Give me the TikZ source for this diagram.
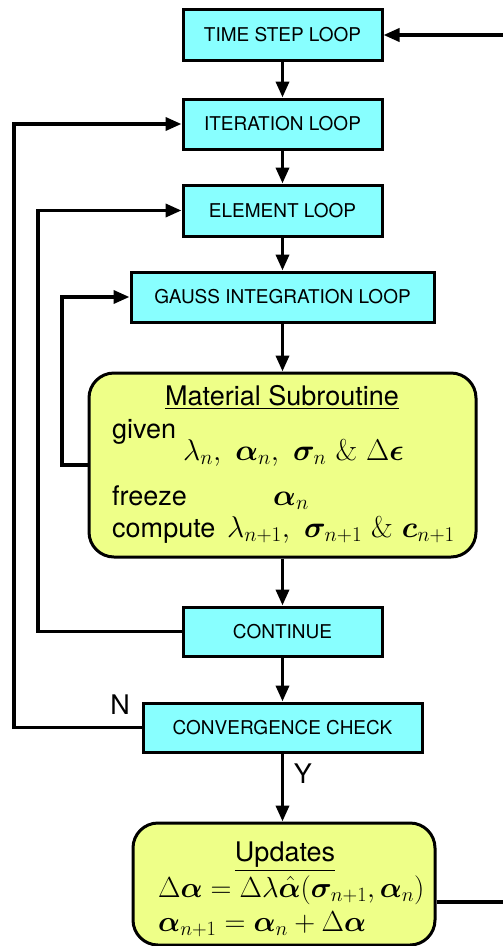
\documentclass[tikz,border=0pt]{standalone}
\usepackage{fix-cm}
\usepackage{amsmath,bm}
\usepackage[no-math]{fontspec}
\newfontfamily\hv{TeX Gyre Heros}
\usetikzlibrary{arrows.meta}
\definecolor{boxcyan}{RGB}{136,255,255}
\definecolor{boxyellow}{RGB}{238,255,136}
\begin{document}
\begin{tikzpicture}[x=1pt,y=-1pt,
 loopbox/.style={draw, line width=3pt, fill=boxcyan, minimum height=51pt, inner sep=0pt, font=\hv\fontsize{19}{22}\selectfont},
 subbox/.style={draw, line width=3pt, fill=boxyellow, rounded corners=25pt, inner sep=0pt},
 conn/.style={line width=3.6pt, -{Triangle[length=16pt,width=13pt]}},
 txt/.style={font=\hv\fontsize{27}{32}\selectfont, inner sep=0pt, anchor=base west},
 mth/.style={font=\fontsize{30}{35}\selectfont, inner sep=0pt, anchor=base west},
 mthu/.style={font=\fontsize{29}{34}\selectfont, inner sep=0pt, anchor=base west}]
\useasboundingbox (0,0) rectangle (503,946);

\node[loopbox, minimum width=199pt] (ts) at (282.5,35) {TIME STEP LOOP};
\node[loopbox, minimum width=199pt, minimum height=50pt] (it) at (282.5,124) {ITERATION LOOP};
\node[loopbox, minimum width=199pt] (el) at (282.5,210.5) {ELEMENT LOOP};
\node[loopbox, minimum width=303pt, minimum height=50pt] (ga) at (282.5,297) {GAUSS INTEGRATION LOOP};
\node[subbox, minimum width=387pt, minimum height=184pt] (ms) at (282.5,465) {};
\node[loopbox, minimum width=199pt, minimum height=49pt] (co) at (282.5,631.5) {CONTINUE};
\node[loopbox, minimum width=279pt, minimum height=49pt] (cc) at (282.5,727.5) {CONVERGENCE CHECK};
\node[subbox, minimum width=302pt, minimum height=122pt] (up) at (284,884) {};

\node[txt, anchor=base, text depth=0pt] (mt) at (282,405) {\underline{Material Subroutine}};
\node[txt] (g) at (112,438) {given};
\node[mth] (gm) at (183,460) {$\lambda_n,\ \bm{\alpha}_n,\ \bm{\sigma}_n\ \&\ \Delta\bm{\epsilon}$};
\node[txt] (fr) at (112,505) {freeze};
\node[mth] (fm) at (273,505) {$\bm{\alpha}_n$};
\node[txt] (cp) at (112,537) {compute};
\node[mth] (cm) at (227,537) {$\lambda_{n+1},\ \bm{\sigma}_{n+1}\ \&\ \bm{c}_{n+1}$};

\node[txt, anchor=base, text depth=0pt] (ut) at (285,861) {\underline{Updates}};
\node[mthu] (u1) at (158,897) {$\Delta\bm{\alpha} = \Delta\lambda\hat{\bm{\alpha}}(\bm{\sigma}_{n+1},\bm{\alpha}_n)$};
\node[mthu] (u2) at (158,931) {$\bm{\alpha}_{n+1} = \bm{\alpha}_n + \Delta\bm{\alpha}$};

\node[txt, anchor=center] (nl) at (120,705) {N};
\node[txt, anchor=center] (yl) at (303,774) {Y};

\coordinate (L1) at (14,0);
\coordinate (L2) at (38,0);
\coordinate (L3) at (62,0);
\coordinate (R) at (512,0);

\draw[conn] (ts) -- (it);
\draw[conn] (it) -- (el);
\draw[conn] (el) -- (ga);
\draw[conn] (ga) -- (ms);
\draw[conn] (ms) -- (co);
\draw[conn] (co) -- (cc);
\draw[conn] (cc.south) -- (cc.south |- up.north);

\draw[conn] (cc.west) -- (cc.west -| L1) |- (it.west);
\draw[conn] (co.west) -- (co.west -| L2) |- (el.west);
\draw[conn] (ms.west) -- (ms.west -| L3) |- (ga.west);
\coordinate (ue) at ([yshift=-18pt]up.east);
\draw[conn] (ue) -- (ue -| R) |- (ts.east);
\end{tikzpicture}
\end{document}
